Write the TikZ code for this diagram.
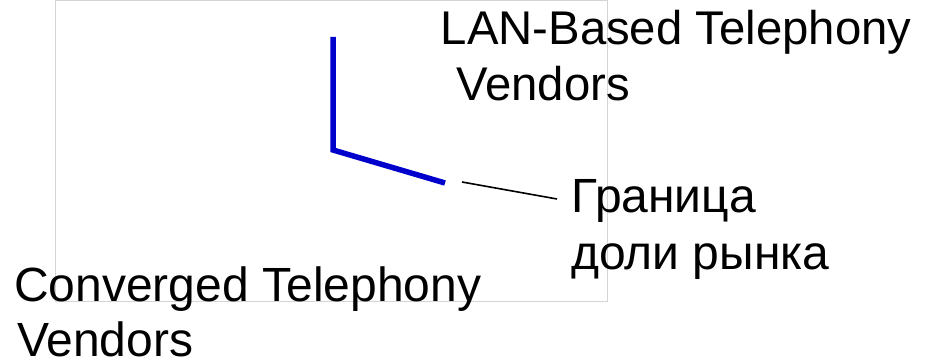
\documentclass[tikz,border=0pt]{standalone}
\usepackage{fontspec}
\setmainfont{Liberation Sans}
\definecolor{bndblue}{RGB}{0,0,204}
\definecolor{frame}{RGB}{212,212,212}
\begin{document}
\begin{tikzpicture}[x=1pt,y=1pt,
  lbl/.style={anchor=base west,inner sep=0pt,font=\fontsize{48}{56}\selectfont},
  lblb/.style={anchor=base west,inner sep=0pt,font=\fontsize{47.3}{56}\selectfont},
  boundary/.style={draw=bndblue,line width=5.5pt,line join=miter},
  pointer/.style={draw=black,line width=1.6pt}]
\useasboundingbox (0,0) rectangle (925,363);
\draw[frame,line width=1pt] (55.5,61) rectangle (607,362.5);
% labels
\node[lblb] (lan1) at (440.5,318) {LAN-Based Telephony};
\node[lblb] (lan2) at (456,262) {Vendors};
\node[lbl] (gr1) at (571.5,150) {Граница};
\node[lbl] (gr2) at (571,93) {доли рынка};
\node[lbl] (cv1) at (14,61.3) {Converged Telephony};
\node[lbl] (cv2) at (17,6.5) {Vendors};
% boundary line
\coordinate (btop) at (333,326);
\coordinate (bcorner) at (333,213);
\coordinate (bend) at (445,180);
\draw[boundary] (btop) -- (bcorner) -- (bend);
% pointer
\coordinate (pstart) at (462,181);
\coordinate (pend) at (557,164);
\draw[pointer] (pstart) -- (pend);
\end{tikzpicture}
\end{document}
